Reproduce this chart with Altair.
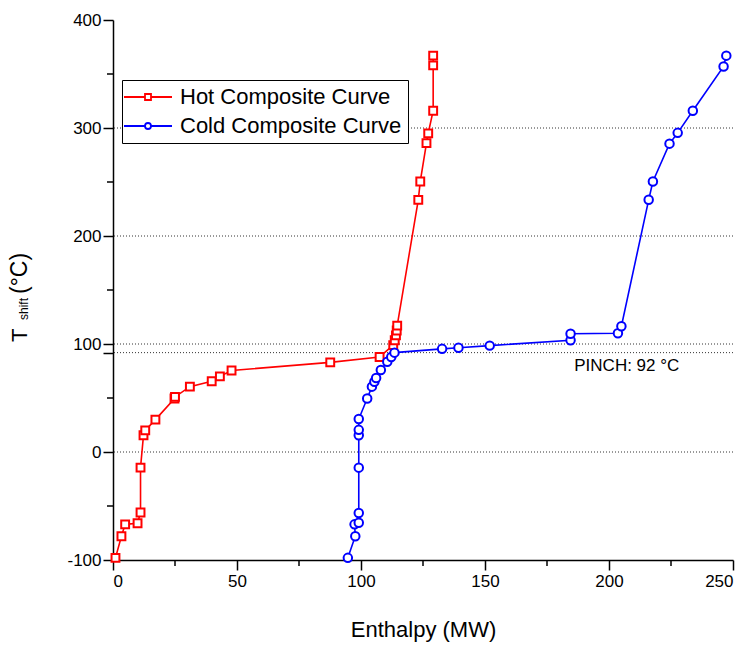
import altair as alt
import pandas as pd

# ---------------- data ----------------
hot_h = [1.0, 3.4, 4.9, 9.9, 11.1, 11.1, 12.3, 13.0, 17.1, 24.8, 25.0, 31.0, 39.8, 43.1, 47.8,
         87.6, 107.5, 113.0, 113.6, 114.1, 114.4, 114.6, 123.1, 123.9, 126.4, 127.1, 129.1, 129.1, 129.1]
hot_t = [-98, -78, -67, -66, -56, -14.5, 15.5, 20, 30, 49.5, 51, 60.5, 65.5, 70, 75.5,
         83, 88, 99, 103.5, 108, 112.5, 117, 233.5, 250.5, 286, 295, 316, 358, 367]

cold_h = [94.7, 97.7, 97.4, 99.1, 99.1, 99.1, 99.1, 99.1, 99.1, 102.5, 104.4, 105.4, 106.1, 108.0,
          110.6, 112.2, 113.5, 132.7, 139.3, 151.9, 184.5, 184.5, 203.6, 205.0, 216.0, 217.7,
          224.4, 227.7, 233.8, 246.2, 247.3]
cold_t = [-98, -78, -67, -65.5, -56.5, -14.5, 15.5, 20.5, 30.5, 49.5, 60.5, 65, 68.5, 76,
          83.5, 88, 92, 95.5, 96.5, 98.5, 103.5, 109.5, 110, 116.5, 233.5, 250.5,
          285.5, 295.5, 316, 357, 367]

series_names = ["Hot Composite Curve", "Cold Composite Curve"]
series_colors = ["#ff0000", "#0000ff"]
grid_temps = [0, 100, 200, 300]
pinch_temp = 92
pinch_text = "PINCH: 92 °C"
pinch_text_h = 186
x_major = [0, 50, 100, 150, 200, 250]
x_minor = [25, 75, 125, 175, 225]
y_major = [-100, 0, 100, 200, 300, 400]
y_minor = [-50, 50, 150, 250, 350]

hot = pd.DataFrame({"H": hot_h, "T": hot_t, "i": list(range(len(hot_h)))})
cold = pd.DataFrame({"H": cold_h, "T": cold_t, "i": list(range(len(cold_h)))})
grid = pd.DataFrame({"T": grid_temps})
pinch = pd.DataFrame({"T": [pinch_temp], "H": [pinch_text_h], "label": [pinch_text]})
leg = pd.DataFrame({"series": series_names, "H": [None, None], "T": [None, None]})
xmin_df = pd.DataFrame({"H": x_minor})
ymin_df = pd.DataFrame({"T": y_minor})

FONT = "Liberation Sans"
W, H = 620, 540
xs = alt.Scale(domain=[0, 250], nice=False, zero=False)
ys = alt.Scale(domain=[-100, 400], nice=False, zero=False)

common_axis = dict(grid=False, tickColor="black", tickWidth=1.5, domainColor="black",
                   domainWidth=1.5, labelFont=FONT, labelFontSize=17, labelColor="black",
                   titleFont=FONT, titleFontSize=22, titleFontWeight="normal", titleColor="black")

x_main = alt.Axis(values=x_major, title="Enthalpy (MW)", tickSize=10, labelPadding=3,
                  titlePadding=30, orient="bottom",
                  labelExpr="'' + datum.value", **common_axis)
y_main = alt.Axis(values=y_major + [pinch_temp], title=None, tickSize=10, labelPadding=2,
                  orient="left",
                  labelExpr="datum.value == 92 ? '' : '' + datum.value", **common_axis)

dotted = dict(color="#333333", strokeDash=[1, 2], strokeWidth=1)

grid_layer = alt.Chart(grid).mark_rule(**dotted).encode(
    y=alt.Y("T:Q", scale=ys, axis=None))
pinch_rule = alt.Chart(pinch).mark_rule(**dotted).encode(
    y=alt.Y("T:Q", scale=ys, axis=None))

# minor ticks (outward, shorter)
xminor_layer = alt.Chart(xmin_df).mark_rule(color="black", strokeWidth=1.5).encode(
    x=alt.X("H:Q", scale=xs, axis=None), y=alt.value(H), y2=alt.value(H + 6))
yminor_layer = alt.Chart(ymin_df).mark_rule(color="black", strokeWidth=1.5).encode(
    y=alt.Y("T:Q", scale=ys, axis=None), x=alt.value(0), x2=alt.value(-6))

hot_line = alt.Chart(hot).mark_line(color="#ff0000", strokeWidth=1.6).encode(
    x=alt.X("H:Q", scale=xs, axis=x_main),
    y=alt.Y("T:Q", scale=ys, axis=y_main),
    order="i:Q")
hot_pts = alt.Chart(hot).mark_point(shape="square", size=62, filled=True, fill="white",
                                    stroke="#ff0000", strokeWidth=2, opacity=1).encode(
    x=alt.X("H:Q", scale=xs, axis=None),
    y=alt.Y("T:Q", scale=ys, axis=None))
cold_line = alt.Chart(cold).mark_line(color="#0000ff", strokeWidth=1.6).encode(
    x=alt.X("H:Q", scale=xs, axis=None),
    y=alt.Y("T:Q", scale=ys, axis=None),
    order="i:Q")
cold_pts = alt.Chart(cold).mark_point(shape="circle", size=72, filled=True, fill="white",
                                      stroke="#0000ff", strokeWidth=2, opacity=1).encode(
    x=alt.X("H:Q", scale=xs, axis=None),
    y=alt.Y("T:Q", scale=ys, axis=None))

hot_sym = "M-8,0H-1M1,0H8M-1,-1H1V1H-1Z"
cold_sym = "M-8,0H-1M1,0H8M-1,0A1,1,0,1,1,1,0A1,1,0,1,1,-1,0Z"
legend = alt.Legend(title=None, orient="none", legendX=9, legendY=60, padding=6,
                    strokeColor="black", fillColor="white", symbolSize=36,
                    symbolStrokeWidth=1.8, symbolFillColor="white", symbolOffset=9,
                    labelOffset=21, labelFont=FONT, labelFontSize=22, labelColor="black",
                    rowPadding=7, labelLimit=400)
leg_layer = alt.Chart(leg).mark_point(filled=False, fill="white", strokeWidth=2, opacity=1).encode(
    x=alt.X("H:Q", scale=xs, axis=None),
    y=alt.Y("T:Q", scale=ys, axis=None),
    color=alt.Color("series:N", scale=alt.Scale(domain=series_names, range=series_colors),
                    legend=legend),
    shape=alt.Shape("series:N", scale=alt.Scale(domain=series_names, range=[hot_sym, cold_sym]),
                    legend=legend))

pinch_lbl = alt.Chart(pinch).mark_text(align="left", baseline="alphabetic", dy=18,
                                        font=FONT, fontSize=17, color="black").encode(
    x=alt.X("H:Q", scale=xs, axis=None),
    y=alt.Y("T:Q", scale=ys, axis=None),
    text="label:N")

def ytxt(s, px, py, fs):
    return alt.Chart(pd.DataFrame({"s": [s]})).mark_text(
        align="left", baseline="alphabetic", angle=270, font=FONT, fontSize=fs, color="black"
    ).encode(x=alt.value(px), y=alt.value(py), text="s:N")

t1 = ytxt("T", -86, 322, 22)
t2 = ytxt("shift", -85, 300, 12)
t3 = ytxt("(°C)", -86, 274, 23)

chart = alt.layer(
    grid_layer, pinch_rule, xminor_layer, yminor_layer, hot_line, hot_pts, cold_line, cold_pts,
    leg_layer, pinch_lbl, t1, t2, t3
).resolve_axis(x="independent", y="independent").properties(
    width=W, height=H,
    autosize=alt.AutoSizeParams(type="none"),
    padding={"left": 113, "top": 20, "right": 15, "bottom": 87},
).configure_view(stroke=None)

chart.save("out.html", embed_options={"renderer": "svg", "actions": False})
